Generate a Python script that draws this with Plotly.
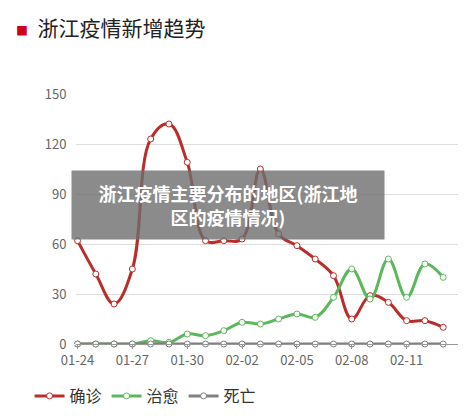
import pandas as pd
import plotly.graph_objects as go

dates = pd.date_range('2020-01-24', '2020-02-13').strftime('%Y-%m-%d').tolist()
confirmed = [62, 42, 24, 45, 123, 132, 109, 62, 62, 63, 105, 66, 59, 51, 41, 15, 29, 25, 14, 14, 10]
cured = [0, 0, 0, 0, 2, 1, 6, 5, 8, 13, 12, 15, 18, 16, 28, 45, 27, 51, 28, 48, 40]
deaths = [0] * 21
tick_vals = dates[::3]
tick_text = [d[5:] for d in tick_vals]

fig = go.Figure()
for name, vals, color in [('确诊', confirmed, '#b92d2a'), ('治愈', cured, '#5cb85c'), ('死亡', deaths, '#808080')]:
    fig.add_trace(go.Scatter(
        x=dates, y=vals, name=name, mode='lines+markers',
        line=dict(color=color, width=3, shape='spline', smoothing=1.1),
        marker=dict(size=6, color='white', line=dict(color=color, width=1)),
        cliponaxis=False,
    ))

fig.update_layout(
    width=466, height=416,
    margin=dict(l=68, r=11, t=86, b=72),
    plot_bgcolor='white', paper_bgcolor='white',
    font=dict(family='Noto Sans CJK SC', color='#666'),
    showlegend=True,
    legend=dict(orientation='h', x=-0.12, y=-0.14, xanchor='left', yanchor='top',
                font=dict(size=16, color='#333'), itemwidth=30),
    xaxis=dict(type='date', range=['2020-01-23 22:00', '2020-02-14 02:00'],
               tickvals=tick_vals, ticktext=tick_text, showgrid=False,
               showline=True, linecolor='#999', ticks='outside', ticklen=4, tickcolor='#999',
               tickfont=dict(size=13, color='#666')),
    yaxis=dict(range=[0, 150], tickvals=[0, 30, 60, 90, 120, 150], gridcolor='#ddd',
               zeroline=False, tickfont=dict(size=13, color='#666'), ticklen=6,
               ticks='outside', tickcolor='white'),
)
fig.add_annotation(xref='paper', yref='paper', x=-0.16, y=1.27, xanchor='left', yanchor='middle',
                   text='<span style="color:#d0021b;font-size:12px">■</span>  浙江疫情新增趋势', showarrow=False,
                   font=dict(size=21, color='#222'))
fig.add_annotation(xref='paper', yref='paper', x=(220 - 68) / 387, y=0.555, xanchor='center', yanchor='middle',
                   text='<b>浙江疫情主要分布的地区(浙江地<br>区的疫情情况)</b>', showarrow=False,
                   font=dict(size=18, color='white'), bgcolor='rgba(110,110,110,0.8)',
                   width=310, height=66)
fig.write_html('out.html')
